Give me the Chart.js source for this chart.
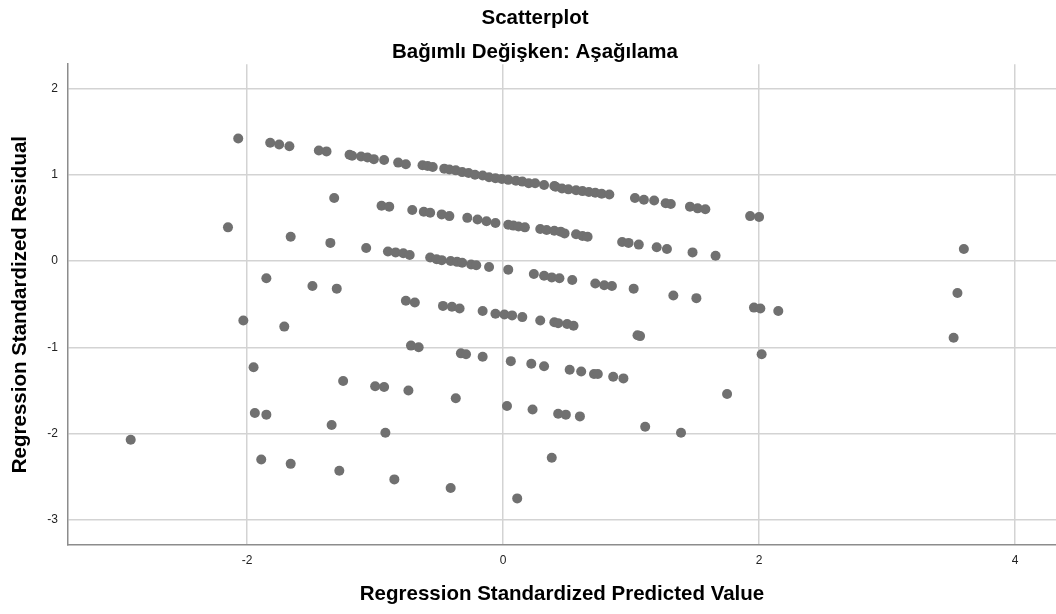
<!DOCTYPE html>
<html>
<head>
<meta charset="utf-8">
<title>Scatterplot</title>
<script src="https://cdn.jsdelivr.net/npm/chart.js@4.4.1/dist/chart.umd.min.js"></script>
<style>
    body { margin: 0; background: #fff; overflow: hidden; }
    #wrap { width: 1056px; height: 614px; }
</style>
</head>
<body>
<div id="wrap"><canvas id="residualChart" width="1056" height="614"></canvas></div>
<script>

// --- Data (x = predicted, y = residual) ---
const predicted = [
    // top band
    -2.07, -1.82, -1.75, -1.67, -1.44, -1.38, -1.20, -1.18, -1.11, -1.06, -1.01, -0.93,
    -0.82, -0.76, -0.63, -0.59, -0.55, -0.46, -0.42, -0.37, -0.32, -0.27, -0.22, -0.16,
    -0.11, -0.06, -0.01, 0.04, 0.10, 0.15, 0.20, 0.25, 0.32, 0.40, 0.41, 0.46, 0.51,
    0.57, 0.62, 0.67, 0.72, 0.77, 0.83, 1.03, 1.10, 1.18, 1.27, 1.31, 1.46, 1.52, 1.58,
    1.93, 2.00,
    // second band
    -1.32, -0.95, -0.89, -0.71, -0.62, -0.57, -0.48, -0.42, -0.28, -0.20, -0.13, -0.06,
    0.04, 0.08, 0.12, 0.17, 0.29, 0.34, 0.40, 0.45, 0.48, 0.57, 0.62, 0.66, 0.93, 0.98,
    1.06, 1.20, 1.28, 1.48, 1.66, 3.60, -2.15, -1.66, -1.35, -1.07,
    // third band
    -0.90, -0.84, -0.78, -0.73, -0.57, -0.52, -0.48, -0.41, -0.36, -0.32, -0.25, -0.21,
    -0.11, 0.04, 0.24, 0.32, 0.38, 0.44, 0.54, 0.72, 0.79, 0.85, 1.02, 1.33, 1.51,
    1.96, 2.01, 2.15, 3.55, -1.85, -1.49, -1.30,
    // fourth band
    -0.76, -0.69, -0.47, -0.40, -0.34, -0.16, -0.06, 0.01, 0.07, 0.15, 0.29, 0.40,
    0.43, 0.50, 0.55, 1.05, 1.07, 3.52, -2.03, -1.71,
    // fifth band
    -0.72, -0.66, -0.33, -0.29, -0.16, 0.06, 0.22, 0.32, 0.52, 0.61, 0.71, 0.74,
    0.86, 0.94, 2.02, -1.95, -1.25, -1.00, -0.93, 1.75,
    // sixth band
    -0.74, -0.37, 0.03, 0.23, 0.43, 0.49, 0.60, 1.11, 1.39, -1.94, -1.85, -1.34,
    -0.92, -2.91,
    // lowest points
    0.38, -1.89, -1.66, -1.28, -0.85, -0.41, 0.11
];

const residual = [
    // top band
    1.42, 1.37, 1.35, 1.33, 1.28, 1.27, 1.23, 1.22, 1.21, 1.20, 1.18, 1.17,
    1.14, 1.12, 1.11, 1.10, 1.09, 1.07, 1.06, 1.05, 1.03, 1.02, 1.00, 0.99,
    0.97, 0.96, 0.95, 0.94, 0.93, 0.92, 0.90, 0.90, 0.88, 0.87, 0.86, 0.84, 0.83,
    0.82, 0.81, 0.80, 0.79, 0.78, 0.77, 0.73, 0.71, 0.70, 0.67, 0.66, 0.63, 0.61, 0.60,
    0.52, 0.51,
    // second band
    0.73, 0.64, 0.63, 0.59, 0.57, 0.56, 0.54, 0.52, 0.50, 0.48, 0.46, 0.44,
    0.42, 0.41, 0.40, 0.39, 0.37, 0.36, 0.35, 0.34, 0.32, 0.31, 0.29, 0.28, 0.22, 0.21,
    0.19, 0.16, 0.14, 0.10, 0.06, 0.14, 0.39, 0.28, 0.21, 0.15,
    // third band
    0.11, 0.10, 0.09, 0.07, 0.04, 0.02, 0.01, 0.00, -0.01, -0.02, -0.04, -0.05,
    -0.07, -0.10, -0.15, -0.17, -0.19, -0.20, -0.22, -0.26, -0.28, -0.29, -0.32, -0.40, -0.43,
    -0.54, -0.55, -0.58, -0.37, -0.20, -0.29, -0.32,
    // fourth band
    -0.46, -0.48, -0.52, -0.53, -0.55, -0.58, -0.61, -0.62, -0.63, -0.65, -0.69, -0.71,
    -0.72, -0.73, -0.75, -0.86, -0.87, -0.89, -0.69, -0.76,
    // fifth band
    -0.98, -1.00, -1.07, -1.08, -1.11, -1.16, -1.19, -1.22, -1.26, -1.28, -1.31, -1.31,
    -1.34, -1.36, -1.08, -1.23, -1.39, -1.45, -1.46, -1.54,
    // sixth band
    -1.50, -1.59, -1.68, -1.72, -1.77, -1.78, -1.80, -1.92, -1.99, -1.76, -1.78, -1.90,
    -1.99, -2.07,
    // lowest points
    -2.28, -2.30, -2.35, -2.43, -2.53, -2.63, -2.75
];

const xTicks = [-2, 0, 2, 4];
const yTicks = [-3, -2, -1, 0, 1, 2];

const chartTitle = 'Scatterplot';
const chartSubtitle = 'Bağımlı Değişken: Aşağılama';
const xTitle = 'Regression Standardized Predicted Value';
const yTitle = 'Regression Standardized Residual';

// --- Build point list for the scatter dataset ---
const points = predicted.map((x, i) => ({ x: x, y: residual[i] }));

const fontFamily = '"Liberation Sans", Arial, sans-serif';
const gridColor = '#d3d3d3';
const axisColor = '#8c8c8c';

new Chart(document.getElementById('residualChart'), {
    type: 'scatter',
    data: {
        datasets: [{
            label: 'Residuals',
            data: points,
            backgroundColor: '#707070',
            borderWidth: 0,
            pointRadius: 5,
            pointHoverRadius: 5
        }]
    },
    options: {
        responsive: false,
        animation: false,
        events: [],
        // original chart is a little wider than the picture (titles centre on it)
        layout: {
            autoPadding: false,
            padding: { top: 0, left: 0, right: -14, bottom: 0 }
        },
        plugins: {
            legend: { display: false },
            tooltip: { enabled: false },
            title: {
                display: true,
                text: chartTitle,
                color: '#000',
                font: { family: fontFamily, size: 20.5, weight: 'bold' },
                padding: { top: 6, bottom: 5 }
            },
            subtitle: {
                display: true,
                text: chartSubtitle,
                color: '#000',
                font: { family: fontFamily, size: 20.5, weight: 'bold' },
                padding: { top: 4, bottom: 0 }
            }
        },
        scales: {
            x: {
                type: 'linear',
                min: -3.40,
                max: 4.32,
                afterBuildTicks: (scale) => {
                    scale.ticks = xTicks.map(v => ({ value: v }));
                },
                afterFit: (scale) => {
                    scale.height = 614 - 545;
                },
                grid: {
                    color: gridColor,
                    lineWidth: 1.5,
                    drawTicks: false
                },
                border: { color: axisColor, width: 1.5 },
                ticks: {
                    color: '#222',
                    padding: 8,
                    font: { family: fontFamily, size: 12 }
                },
                title: {
                    display: true,
                    text: xTitle,
                    color: '#000',
                    font: { family: fontFamily, size: 20.5, weight: 'bold' },
                    padding: { top: 0, bottom: 7 }
                }
            },
            y: {
                type: 'linear',
                min: -3.29,
                max: 2.28,
                afterBuildTicks: (scale) => {
                    scale.ticks = yTicks.map(v => ({ value: v }));
                },
                afterFit: (scale) => {
                    scale.width = 68;
                },
                grid: {
                    color: gridColor,
                    lineWidth: 1.5,
                    drawTicks: false
                },
                border: { color: axisColor, width: 1.5 },
                ticks: {
                    color: '#222',
                    padding: 10,
                    font: { family: fontFamily, size: 12 }
                },
                title: {
                    display: true,
                    text: yTitle,
                    color: '#000',
                    font: { family: fontFamily, size: 20.5, weight: 'bold' },
                    padding: { top: 8, bottom: 0 }
                }
            }
        }
    }
});

</script>
</body>
</html>
